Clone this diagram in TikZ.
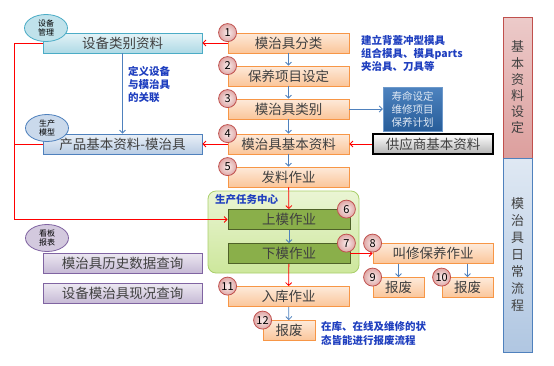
\documentclass[tikz,border=0pt]{standalone}
\usepackage{fontspec}
\setmainfont{Noto Sans CJK SC}
\usepackage{xcolor}
\definecolor{clTask}{HTML}{F79646}
\definecolor{clStage}{HTML}{8AAF4A}
\definecolor{clStageLine}{HTML}{4F6228}
\definecolor{clCenter}{HTML}{A9CF6A}
\definecolor{clCenterTop}{HTML}{EAF5D4}
\definecolor{clCenterBottom}{HTML}{CDE79C}
\definecolor{clEquip}{HTML}{4BACC6}
\definecolor{clModel}{HTML}{4F81BD}
\definecolor{clReport}{HTML}{8064A2}
\definecolor{clNum}{HTML}{C0504D}
\definecolor{clNote}{HTML}{1F3FBF}
\definecolor{clText}{HTML}{404040}
\definecolor{clLink}{HTML}{FF0000}
\definecolor{clPlan}{HTML}{2E6DB4}
\usetikzlibrary{arrows.meta,positioning,shapes.geometric}
\tikzset{
  box/.style={rectangle, draw, thick, align=center, inner sep=0pt,
              minimum height=20pt, text=clText, font=\fontsize{13.5}{15}\selectfont},
  task/.style={box, draw=clTask, top color=clTask!20, bottom color=clTask!55, minimum width=121pt},
  stage/.style={box, draw=clStageLine, fill=clStage, minimum width=122pt},
  equip/.style={box, draw=clEquip, top color=clEquip!15, bottom color=clEquip!45, minimum width=159pt},
  model/.style={box, draw=clModel, top color=clModel!12, bottom color=clModel!40, minimum width=159pt},
  report/.style={box, draw=clReport, top color=clReport!15, bottom color=clReport!45, minimum width=159pt},
  tag/.style={ellipse, draw, thick, minimum width=43pt, minimum height=27pt, inner sep=0pt,
              align=center, text=black, font=\fontsize{8}{9.5}\selectfont},
  num/.style={circle, draw=clNum, thick, inner color=clNum!10, outer color=clNum!50,
              minimum size=18pt, inner sep=0pt, font=\fontsize{11}{11}\selectfont},
  note/.style={align=left, text=clNote, inner sep=0pt, font=\bfseries\fontsize{10.5}{13}\selectfont},
  band/.style={rectangle, draw, thick, minimum width=29pt, align=center, inner sep=0pt,
               text=clText, font=\fontsize{13}{16.2}\selectfont},
  flow/.style={-{Straight Barb[length=3pt,width=6pt]}, thick, draw=clModel},
  link/.style={-{Straight Barb[length=3pt,width=6pt]}, thick, draw=clLink},
}
\begin{document}
\begin{tikzpicture}[x=1pt, y=-1pt]
  \useasboundingbox (0,0) rectangle (554,365);
  % main flow
  \node[task] (fenlei) at (288.5,43) {模治具分类};
  \node[task] (baoyang) at (288.5,76) {保养项目设定};
  \node[task] (leibie) at (288.5,109) {模治具类别};
  \node[task] (jiben) at (288.5,144) {模治具基本资料};
  \node[task] (faliao) at (288.5,177) {发料作业};
  \node[rounded corners=8pt, draw=clCenter, thick, top color=clCenterTop, bottom color=clCenterBottom,
        minimum width=151pt, minimum height=82pt] (center) at (283.5,232) {};
  \node[note, anchor=west] (centerLabel) at (215,200) {生产任务中心};
  \node[stage] (shangmo) at (289,219.5) {上模作业};
  \node[stage] (xiamo) at (289,253.5) {下模作业};
  \node[task] (ruku) at (288.5,296.5) {入库作业};
  \node[task, minimum width=52pt] (baofei) at (289,330.5) {报废};
  % left side
  \node[equip] (shebei) at (122.5,43) {设备类别资料};
  \node[model] (chanpin) at (122.5,144) {产品基本资料-模治具};
  \node[report] (lishi) at (122.5,263) {模治具历史数据查询};
  \node[report] (xiankuang) at (122.5,293.5) {设备模治具现况查询};
  \node[note, anchor=north west] (noteEquip) at (128,66) {定义设备\\与模治具\\的关联};
  % right side
  \node[note, anchor=north west] (noteType) at (361,35) {建立背蓋冲型模具\\组合模具、模具parts\\夹治具、刀具等};
  \node[rectangle, draw=clPlan!70, top color=clPlan!85, bottom color=clPlan!85!black,
        minimum width=59pt, minimum height=44pt, inner sep=0pt, align=center,
        text=white!85!clPlan, font=\fontsize{10.5}{13}\selectfont] (shouming) at (412.5,109) {寿命设定\\维修项目\\保养计划};
  \node[box, draw=black, line width=1.2pt, top color=white, bottom color=black!30,
        minimum width=120pt] (gongying) at (433,144) {供应商基本资料};
  \node[task, minimum width=120pt] (jiaoxiu) at (433,253.5) {叫修保养作业};
  \node[task, minimum width=51pt] (baofeiA) at (398.5,287.5) {报废};
  \node[task, minimum width=51pt] (baofeiB) at (467.5,287.5) {报废};
  \node[note, anchor=north west, font=\bfseries\fontsize{10.5}{14.5}\selectfont] (noteScrap) at (321,321)
       {在库、在线及维修的状\\态皆能进行报废流程};
  \node[band, draw=clNum, top color=clNum!30, bottom color=clNum!55, minimum height=141pt]
       (bandBasic) at (517.5,87.5) {基\\本\\资\\料\\设\\定};
  \node[band, draw=clModel, top color=clModel!18, bottom color=clModel!45, minimum height=194pt,
        font=\fontsize{13}{17}\selectfont] (bandDaily) at (517.5,255) {模\\治\\具\\日\\常\\流\\程};
  % connectors
  \draw[flow] (fenlei) -- (baoyang);
  \draw[flow] (baoyang) -- (leibie);
  \draw[flow] (leibie) -- (jiben);
  \draw[flow] (jiben) -- (faliao);
  \draw[link] (faliao) -- (shangmo);
  \draw[flow] (shangmo) -- (xiamo);
  \draw[link] (xiamo) -- (ruku);
  \draw[flow] (ruku) -- (baofei);
  \draw[link] (xiamo) -- (jiaoxiu);
  \draw[flow] (jiaoxiu.south -| baofeiA) -- (baofeiA);
  \draw[flow] (jiaoxiu.south -| baofeiB) -- (baofeiB);
  \draw[flow] (leibie) -- (shouming);
  \draw[link] (gongying) -- (jiben);
  \draw[link] (fenlei) -- (shebei);
  \draw[link] (jiben) -- (chanpin);
  \draw[flow] (shebei) -- (chanpin);
  \draw[link] (shebei.west) -- ++(-28,0) coordinate (bend) |- (shangmo.west);
  \draw[link, -] (chanpin.west) -- (bend |- chanpin.west);
  % numbers and tags
  \node[num] (n1) at (fenlei.north west) {1};
  \node[num] (n2) at (baoyang.north west) {2};
  \node[num] (n3) at (leibie.north west) {3};
  \node[num] (n4) at (jiben.north west) {4};
  \node[num] (n5) at (faliao.north west) {5};
  \node[num] (n6) at ([xshift=-4pt]shangmo.north east) {6};
  \node[num] (n7) at ([xshift=-4pt]xiamo.north east) {7};
  \node[num] (n8) at (jiaoxiu.north west) {8};
  \node[num] (n9) at (baofeiA.north west) {9};
  \node[num] (n10) at (baofeiB.north west) {10};
  \node[num] (n11) at (ruku.north west) {11};
  \node[num] (n12) at (baofei.north west) {12};
  \node[tag, draw=clEquip, fill=clEquip!35] (tagEquip) at (46,28) {设备\\管理};
  \node[tag, draw=clModel, fill=clModel!30] (tagModel) at (47,128) {生产\\模型};
  \node[tag, draw=clReport, fill=clReport!35] (tagReport) at (47,238) {看板\\报表};
\end{tikzpicture}
\end{document}
